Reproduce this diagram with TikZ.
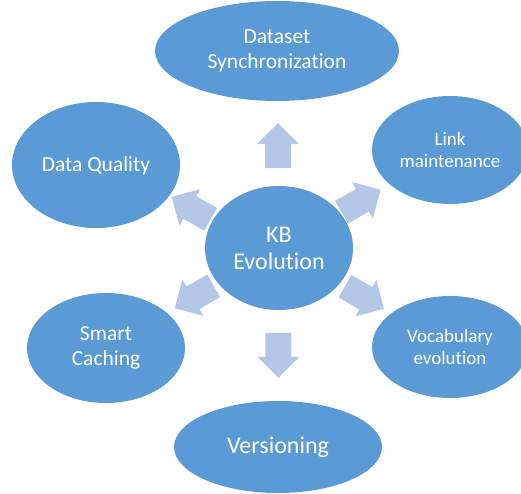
\documentclass[tikz,border=0pt]{standalone}
\usepackage{fontspec}
\setmainfont{Carlito}[Ligatures={NoCommon,NoContextual}]
\usetikzlibrary{shapes.geometric,calc}
\definecolor{bubbleblue}{RGB}{91,155,213}
\definecolor{arrowblue}{RGB}{180,199,231}
\tikzset{
  bubble/.style={ellipse,fill=bubbleblue,text=white,inner sep=0pt,align=center},
  spoke/.pic={\fill[arrowblue] (-22.5,-13)--(1.5,-13)--(1.5,-21)--(22.5,0)--(1.5,21)--(1.5,13)--(-22.5,13)--cycle;}
}
\newcommand{\fs}[2]{\fontsize{#1}{#2}\selectfont}
\begin{document}
\begin{tikzpicture}[x=1pt,y=-1pt]
    \useasboundingbox (0,0) rectangle (521,494);
    \node[bubble,minimum width=148pt,minimum height=124pt,font=\fs{24}{27}] (kb) at (279,248) {KB\\Evolution};
    \node[bubble,minimum width=244pt,minimum height=100pt,font=\fs{21.5}{24.5}] (dataset) at (277,51) {Dataset\\Synchronization};
    \node[bubble,minimum width=156pt,minimum height=108pt,font=\fs{19}{21.5}] (link) at (450,150) {Link\\maintenance};
    \node[bubble,minimum width=156pt,minimum height=102pt,font=\fs{19}{21.5}] (vocab) at (450,347) {Vocabulary\\evolution};
    \node[bubble,minimum width=208pt,minimum height=92pt,font=\fs{24}{27}] (versioning) at (278,447) {Versioning};
    \node[bubble,minimum width=158pt,minimum height=110pt,font=\fs{21.5}{24.5}] (caching) at (106,348) {Smart\\Caching};
    \node[bubble,minimum width=168pt,minimum height=126pt,font=\fs{21.5}{24.5},text depth=1pt] (quality) at (96,165) {Data Quality};
    \pic[rotate=90] at ($(kb)!0.52!(dataset)$) {spoke};
    \pic[rotate=30] at ($(kb)!0.48!(link)$) {spoke};
    \pic[rotate=-30] at ($(kb)!0.5!(vocab)$) {spoke};
    \pic[rotate=-90] at ($(kb)!0.54!(versioning)$) {spoke};
    \pic[rotate=210] at ($(kb)!0.49!(caching)$) {spoke};
    \pic[rotate=150] at ($(kb)!0.48!(quality)$) {spoke};
  \end{tikzpicture}
\end{document}
